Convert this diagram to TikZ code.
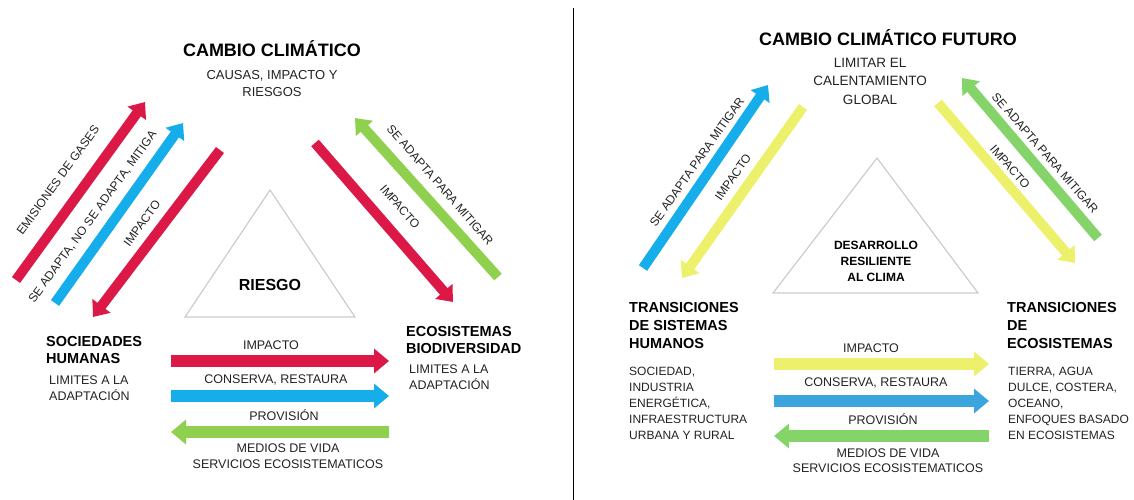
\documentclass[tikz,border=0pt]{standalone}
\usepackage{fontspec}
\setmainfont{Liberation Sans}
\usetikzlibrary{arrows.meta}
\definecolor{cred}{HTML}{DC1846}
\definecolor{cblueL}{HTML}{16AEEA}
\definecolor{cgreenL}{HTML}{8FD14F}
\definecolor{cyel}{HTML}{EDF06B}
\definecolor{cblueR}{HTML}{3BA6DD}
\definecolor{cgreenR}{HTML}{85D46A}
\definecolor{ctxt}{HTML}{222222}
\begin{document}
\begin{tikzpicture}[x=1pt,y=-1pt,
  diag/.style={line width=10pt,-{Triangle[width=22pt,length=14pt]}},
  horiz/.style={line width=11.5pt,-{Triangle[width=24pt,length=15pt]}},
  lbl/.style={font=\fontsize{12}{14}\selectfont, inner sep=0pt, text=ctxt},
  sub/.style={font=\fontsize{12.5}{16.5}\selectfont, inner sep=0pt, text=ctxt, align=left, anchor=north west},
  subR/.style={font=\fontsize{12}{16}\selectfont, inner sep=0pt, text=ctxt, align=left, anchor=north west},
  head/.style={font=\fontsize{14.5}{17.3}\bfseries\selectfont, inner sep=0pt, text=black, align=left, anchor=north west},
  headR/.style={font=\fontsize{14.5}{18.3}\bfseries\selectfont, inner sep=0pt, text=black, align=left, anchor=north west},
  title/.style={font=\fontsize{18}{20}\bfseries\selectfont, inner sep=0pt, text=black},
  tri/.style={draw=black!20, line width=1.2pt, line join=miter}
]
\useasboundingbox (0,0) rectangle (1134,500);

% divider
\coordinate (d1) at (573,8);
\coordinate (d2) at (573,500);
\draw[black, line width=1pt] (d1) -- (d2);

% ================= LEFT PANEL =================
\node[title] (t1) at (272,49) {CAMBIO CLIMÁTICO};
\node[font=\fontsize{13}{17}\selectfont, inner sep=0pt, text=ctxt, align=center] (s1) at (272,84) {CAUSAS, IMPACTO Y\\RIESGOS};

% triangle
\coordinate (ta) at (270,190);
\coordinate (tb) at (185,317);
\coordinate (tc) at (355,317);
\draw[tri] (ta) -- (tb) -- (tc) -- cycle;
\node[font=\fontsize{16}{18}\bfseries\selectfont, inner sep=0pt] (riesgo) at (270,285) {RIESGO};

% diagonal arrows left
\coordinate (r1a) at (16,280);  \coordinate (r1b) at (145,102);
\coordinate (b1a) at (55,303);  \coordinate (b1b) at (183,123);
\coordinate (r2a) at (220,150); \coordinate (r2b) at (93,317);
\coordinate (r3a) at (315,143); \coordinate (r3b) at (453,302);
\coordinate (g1a) at (498,277); \coordinate (g1b) at (355,118);
\draw[diag, cred] (r1a) -- (r1b);
\draw[diag, cblueL] (b1a) -- (b1b);
\draw[diag, cred] (r2a) -- (r2b);
\draw[diag, cred] (r3a) -- (r3b);
\draw[diag, cgreenL] (g1a) -- (g1b);

\node[lbl, rotate=54] (l1) at (58,180) {EMISIONES DE GASES};
\node[lbl, rotate=54] (l2) at (93,217) {SE ADAPTA, NO SE ADAPTA, MITIGA};
\node[lbl, rotate=54] (l3) at (142,223) {IMPACTO};
\node[lbl, rotate=-49] (l4) at (400,207) {IMPACTO};
\node[lbl, rotate=-49] (l5) at (440,185) {SE ADAPTA PARA MITIGAR};

% side blocks left
\node[head] (soc) at (46,335.8) {SOCIEDADES\\HUMANAS};
\node[sub] (lim1) at (49,375.5) {LIMITES A LA\\ADAPTACIÓN};
\node[head] (eco) at (406,325.8) {ECOSISTEMAS\\BIODIVERSIDAD};
\node[sub] (lim2) at (409,364.5) {LIMITES A LA\\ADAPTACIÓN};

% horizontal arrows left
\coordinate (h1a) at (171,361); \coordinate (h1b) at (389,361);
\coordinate (h2a) at (171,396); \coordinate (h2b) at (389,396);
\coordinate (h3a) at (389,432); \coordinate (h3b) at (171,432);
\draw[horiz, cred] (h1a) -- (h1b);
\draw[horiz, cblueL] (h2a) -- (h2b);
\draw[horiz, cgreenL] (h3a) -- (h3b);
\node[lbl, font=\fontsize{12.5}{14}\selectfont] (hl1) at (271,345) {IMPACTO};
\node[lbl, font=\fontsize{12.5}{14}\selectfont] (hl2) at (276,380) {CONSERVA, RESTAURA};
\node[lbl, font=\fontsize{12.5}{14}\selectfont] (hl3) at (284,415) {PROVISIÓN};
\node[lbl, font=\fontsize{12.5}{16}\selectfont, align=center] (hl4) at (288,456) {MEDIOS DE VIDA\\SERVICIOS ECOSISTEMATICOS};

% ================= RIGHT PANEL =================
\node[title] (t2) at (888,38) {CAMBIO CLIMÁTICO FUTURO};
\node[font=\fontsize{13.5}{18.5}\selectfont, inner sep=0pt, text=ctxt, align=center] (s2) at (870,81) {LIMITAR EL\\CALENTAMIENTO\\GLOBAL};

\coordinate (ua) at (877,158);
\coordinate (ub) at (773,293);
\coordinate (uc) at (978,293);
\draw[tri] (ua) -- (ub) -- (uc) -- cycle;
\node[font=\fontsize{12}{16}\bfseries\selectfont, inner sep=0pt, align=center] (des) at (876,261) {DESARROLLO\\RESILIENTE\\AL CLIMA};

\coordinate (b2a) at (643,268);  \coordinate (b2b) at (768,85);
\coordinate (y1a) at (803,107);  \coordinate (y1b) at (682,278);
\coordinate (y2a) at (938,103);  \coordinate (y2b) at (1075,263);
\coordinate (g2a) at (1098,238); \coordinate (g2b) at (962,78);
\draw[diag, cblueL] (b2a) -- (b2b);
\draw[diag, cyel] (y1a) -- (y1b);
\draw[diag, cyel] (y2a) -- (y2b);
\draw[diag, cgreenR] (g2a) -- (g2b);

\node[lbl, rotate=55] (m1) at (697,162) {SE ADAPTA PARA MITIGAR};
\node[lbl, rotate=55] (m2) at (733,177) {IMPACTO};
\node[lbl, rotate=-49] (m3) at (1010,167) {IMPACTO};
\node[lbl, rotate=-49] (m4) at (1045,153) {SE ADAPTA PARA MITIGAR};

\node[headR] (trh) at (629,301.8) {TRANSICIONES\\DE SISTEMAS\\HUMANOS};
\node[subR] (trhs) at (629,366.7) {SOCIEDAD,\\INDUSTRIA\\ENERGÉTICA,\\INFRAESTRUCTURA\\URBANA Y RURAL};
\node[headR] (tre) at (1007,301.8) {TRANSICIONES\\DE\\ECOSISTEMAS};
\node[subR] (tres) at (1008,366.7) {TIERRA, AGUA\\DULCE, COSTERA,\\OCEANO,\\ENFOQUES BASADO\\EN ECOSISTEMAS};

\coordinate (k1a) at (774,364); \coordinate (k1b) at (989,364);
\coordinate (k2a) at (774,401); \coordinate (k2b) at (989,401);
\coordinate (k3a) at (989,436); \coordinate (k3b) at (774,436);
\draw[horiz, cyel] (k1a) -- (k1b);
\draw[horiz, cblueR] (k2a) -- (k2b);
\draw[horiz, cgreenR] (k3a) -- (k3b);
\node[lbl, font=\fontsize{12.5}{14}\selectfont] (kl1) at (871,348) {IMPACTO};
\node[lbl, font=\fontsize{12.5}{14}\selectfont] (kl2) at (876,383) {CONSERVA, RESTAURA};
\node[lbl, font=\fontsize{12.5}{14}\selectfont] (kl3) at (883,419) {PROVISIÓN};
\node[lbl, font=\fontsize{12.5}{15.5}\selectfont, align=center] (kl4) at (888,460.5) {MEDIOS DE VIDA\\SERVICIOS ECOSISTEMATICOS};
\end{tikzpicture}
\end{document}
